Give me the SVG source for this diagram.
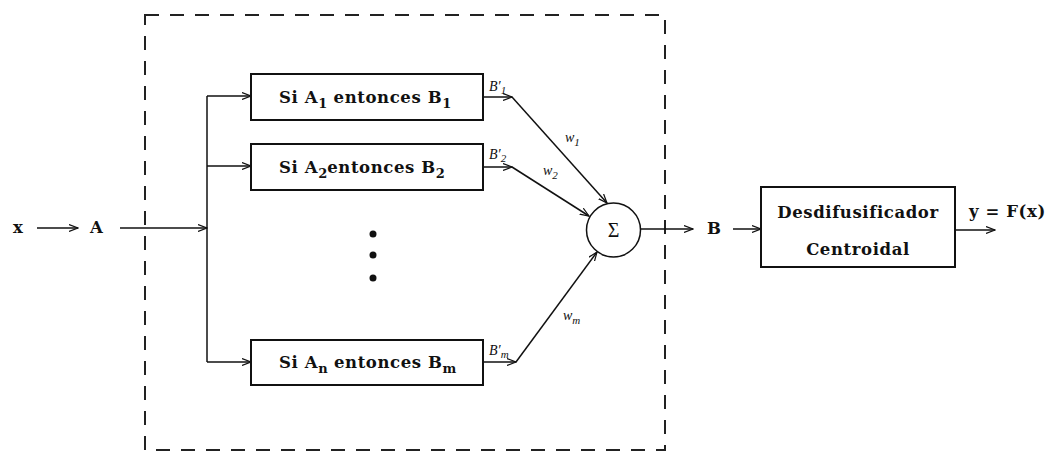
<svg xmlns="http://www.w3.org/2000/svg" width="1052" height="459" viewBox="0 0 1052 459">
<defs>
<marker id="ah" markerWidth="10" markerHeight="8" refX="9" refY="4" orient="auto" markerUnits="userSpaceOnUse">
<path d="M0,0.5 L9,4 L0,7.5" fill="none" stroke="#111" stroke-width="1.2"/>
</marker>
</defs>
<style>
.ln{stroke:#111;stroke-width:1.5;fill:none}
.bx{stroke:#111;stroke-width:2;fill:#fff}
.t{font-family:"DejaVu Serif","Liberation Serif",serif;font-weight:bold;font-size:16.5px;letter-spacing:0.6px;fill:#111}
.s{font-size:13px;letter-spacing:0}
.i{font-family:"Liberation Serif","DejaVu Serif",serif;font-style:italic;font-size:14px;fill:#111}
.dash{stroke:#222;stroke-width:2;fill:none;stroke-dasharray:14 11}
</style>
<rect width="1052" height="459" fill="#fff"/>
<g id="frame"><rect class="dash" x="145" y="15" width="520" height="435"/></g>
<g id="connectors">
<line class="ln" x1="37" y1="228" x2="78" y2="228" marker-end="url(#ah)"/>
<line class="ln" x1="120" y1="228" x2="207" y2="228" marker-end="url(#ah)"/>
<line class="ln" x1="207" y1="96" x2="207" y2="362"/>
<line class="ln" x1="207" y1="96" x2="251" y2="96" marker-end="url(#ah)"/>
<line class="ln" x1="207" y1="166" x2="251" y2="166" marker-end="url(#ah)"/>
<line class="ln" x1="207" y1="362" x2="251" y2="362" marker-end="url(#ah)"/>
<line class="ln" x1="483" y1="97" x2="512" y2="97" marker-end="url(#ah)"/>
<line class="ln" x1="512" y1="97" x2="607" y2="203" marker-end="url(#ah)"/>
<line class="ln" x1="483" y1="167" x2="512" y2="167" marker-end="url(#ah)"/>
<line class="ln" x1="512" y1="167" x2="589" y2="216" marker-end="url(#ah)"/>
<line class="ln" x1="483" y1="362" x2="516" y2="362" marker-end="url(#ah)"/>
<line class="ln" x1="516" y1="362" x2="597" y2="252" marker-end="url(#ah)"/>
<line class="ln" x1="641" y1="229" x2="693" y2="229" marker-end="url(#ah)"/>
<line class="ln" x1="733" y1="229" x2="761" y2="229" marker-end="url(#ah)"/>
<line class="ln" x1="955" y1="230" x2="995" y2="230" marker-end="url(#ah)"/>
<text class="i" x="489" y="91">B′<tspan dy="3" font-size="11">1</tspan></text>
<text class="i" x="489" y="159">B′<tspan dy="3" font-size="11">2</tspan></text>
<text class="i" x="489" y="355">B′<tspan dy="3" font-size="11">m</tspan></text>
<text class="i" x="565" y="142">w<tspan dy="4" font-size="11">1</tspan></text>
<text class="i" x="543" y="175">w<tspan dy="4" font-size="11">2</tspan></text>
<text class="i" x="563" y="320">w<tspan dy="4" font-size="11">m</tspan></text>
</g>
<g id="x"><text class="t" x="13" y="233">x</text></g>
<g id="A"><text class="t" x="90" y="233">A</text></g>
<g id="rule1"><rect class="bx" x="251" y="74" width="232" height="46"/>
<text class="t" x="279" y="103">Si A<tspan class="s" dy="5">1</tspan><tspan dy="-5"> entonces B</tspan><tspan class="s" dy="5">1</tspan></text></g>
<g id="rule2"><rect class="bx" x="251" y="144" width="232" height="46"/>
<text class="t" x="279" y="173">Si A<tspan class="s" dy="5">2</tspan><tspan dy="-5">entonces B</tspan><tspan class="s" dy="5">2</tspan></text></g>
<g id="dots"><circle cx="373" cy="234" r="3.5" fill="#111"/><circle cx="373" cy="255" r="3.5" fill="#111"/><circle cx="373" cy="278" r="3.5" fill="#111"/></g>
<g id="ruleN"><rect class="bx" x="251" y="340" width="232" height="45"/>
<text class="t" x="279" y="368">Si A<tspan class="s" dy="5">n</tspan><tspan dy="-5"> entonces B</tspan><tspan class="s" dy="5">m</tspan></text></g>
<g id="sum"><circle cx="613.5" cy="230" r="27" fill="#fff" stroke="#111" stroke-width="1.5"/>
<text x="613.5" y="237" text-anchor="middle" font-family="Liberation Serif,serif" font-size="20" fill="#111">Σ</text></g>
<g id="B"><text class="t" x="707" y="234">B</text></g>
<g id="defuzz"><rect class="bx" x="761" y="187" width="194" height="80"/>
<text class="t" x="858" y="218" text-anchor="middle">Desdifusificador</text>
<text class="t" x="858" y="255" text-anchor="middle">Centroidal</text></g>
<g id="out"><text class="t" x="969" y="217">y = F(x)</text></g>
</svg>
